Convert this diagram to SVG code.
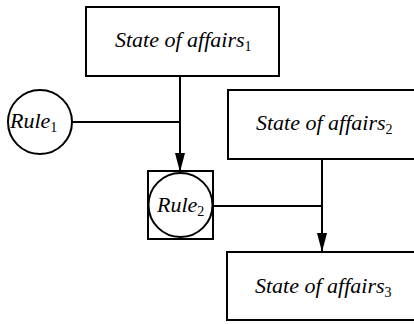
<svg xmlns="http://www.w3.org/2000/svg" width="414" height="324" viewBox="0 0 414 324">
<style>
.box{fill:#fff;stroke:#000;stroke-width:2}
.ln{fill:none;stroke:#000;stroke-width:2}
.t{font-family:'Liberation Serif','Times New Roman',serif;font-style:italic;font-size:22px;fill:#000}
.sub{font-size:14px;font-style:normal}
</style>
<defs>
<marker id="ah" markerWidth="19" markerHeight="10" refX="19" refY="5" orient="auto" markerUnits="userSpaceOnUse" viewBox="0 0 19 10">
<path d="M0,0 L19,5 L0,10 Z" fill="#000"/>
</marker>
</defs>
<g id="connectors">
<line class="ln" x1="180" y1="76" x2="180" y2="172" marker-end="url(#ah)"/>
<line class="ln" x1="72" y1="122" x2="180" y2="122"/>
<line class="ln" x1="322" y1="159" x2="322" y2="252" marker-end="url(#ah)"/>
<line class="ln" x1="213" y1="206" x2="322" y2="206"/>
</g>
<g id="soa1">
<rect class="box" x="86" y="7" width="193" height="69"/>
<text class="t" x="115" y="47">State of affairs<tspan class="sub" dy="4">1</tspan></text>
</g>
<g id="soa2">
<rect class="box" x="228" y="90" width="200" height="69"/>
<text class="t" x="256" y="130">State of affairs<tspan class="sub" dy="4">2</tspan></text>
</g>
<g id="soa3">
<rect class="box" x="227" y="252" width="200" height="68"/>
<text class="t" x="255" y="293">State of affairs<tspan class="sub" dy="4">3</tspan></text>
</g>
<g id="rule1">
<circle class="box" cx="40" cy="122" r="32"/>
<text class="t" x="10" y="128">Rule<tspan class="sub" dy="4">1</tspan></text>
</g>
<g id="rule2">
<rect class="box" x="148" y="171" width="65" height="68"/>
<circle class="box" cx="180.5" cy="205" r="32"/>
<text class="t" x="157" y="212">Rule<tspan class="sub" dy="4">2</tspan></text>
</g>
</svg>
